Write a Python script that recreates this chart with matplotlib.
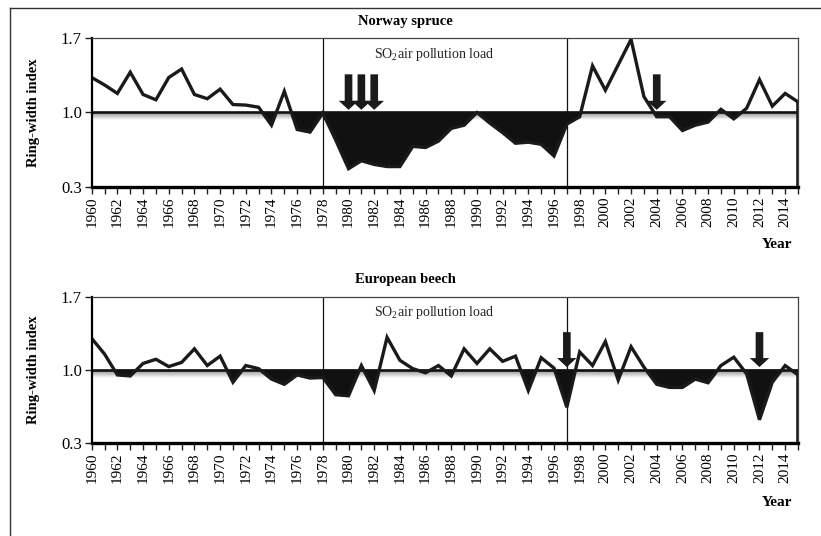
import numpy as np
import matplotlib
matplotlib.use("Agg")
import matplotlib.pyplot as plt
from matplotlib.lines import Line2D
from matplotlib.ticker import MultipleLocator

years = list(range(1960, 2016))

spruce = [1.33, 1.26, 1.18, 1.38, 1.17, 1.12, 1.33, 1.41, 1.17, 1.13,
          1.22, 1.075, 1.07, 1.05, 0.88, 1.20, 0.84, 0.815, 0.995, 0.74,
          0.47, 0.545, 0.51, 0.49, 0.49, 0.68, 0.67, 0.73, 0.85, 0.88,
          1.00, 0.90, 0.81, 0.71, 0.72, 0.70, 0.59, 0.89, 0.96, 1.44,
          1.21, 1.45, 1.69, 1.15, 0.96, 0.96, 0.83, 0.88, 0.91, 1.03,
          0.94, 1.04, 1.31, 1.06, 1.18, 1.10]

beech = [1.30, 1.15, 0.95, 0.94, 1.06, 1.10, 1.03, 1.07, 1.20, 1.04,
         1.13, 0.88, 1.04, 1.01, 0.91, 0.86, 0.95, 0.92, 0.925, 0.76,
         0.75, 1.04, 0.80, 1.31, 1.09, 1.01, 0.97, 1.04, 0.94, 1.20,
         1.06, 1.20, 1.08, 1.13, 0.80, 1.115, 1.015, 0.64, 1.17, 1.04,
         1.27, 0.90, 1.22, 1.025, 0.86, 0.83, 0.83, 0.91, 0.875, 1.04,
         1.12, 0.96, 0.52, 0.88, 1.04, 0.95]

titles = ["Norway spruce", "European beech"]
series = [spruce, beech]
arrow_years = [[1980, 1981, 1982, 2004], [1997, 2012]]
period_bounds = [1978, 1997]
yticks = [0.3, 1.0, 1.7]
ytick_labels = ["0.3", "1.0", "1.7"]

SERIF = ["Liberation Serif", "DejaVu Serif"]
plt.rcParams["font.family"] = SERIF
plt.rcParams["mathtext.fontset"] = "custom"
plt.rcParams["mathtext.rm"] = "Liberation Serif"

W, H = 821, 536
fig = plt.figure(figsize=(W / 100, H / 100), dpi=100)

# outer frame
fig.add_artist(Line2D([10 / W, 10 / W], [0, 1 - 8 / H], transform=fig.transFigure,
                      color="#333333", lw=1.0))
fig.add_artist(Line2D([10 / W, 1], [1 - 8 / H, 1 - 8 / H], transform=fig.transFigure,
                      color="#333333", lw=1.0))

panels = [  # (top_px, bottom_px, title_y_px, year_y_px)
    (38.3, 186.7, 22, 245),
    (296.7, 442.7, 280, 502),
]
x0, x1 = 91.7, 798

for i, (top, bot, ty, yy) in enumerate(panels):
    ax = fig.add_axes([x0 / W, 1 - bot / H, (x1 - x0) / W, (bot - top) / H])
    vals = np.array(series[i])
    yr = np.array(years)
    ax.set_xlim(1960, 2015)
    ax.set_ylim(0.3, 1.7)

    # shadow under baseline
    grad = np.linspace(0.55, 1.0, 50).reshape(-1, 1)
    ax.imshow(grad, cmap="gray", vmin=0, vmax=1, extent=[1960, 2015, 0.925, 1.0],
              aspect="auto", origin="upper", zorder=1, interpolation="bilinear")

    ax.fill_between(yr, vals, 1.0, where=vals < 1.0, interpolate=True,
                    color="#111111", lw=0, zorder=2)
    ax.axhline(1.0, color="#111111", lw=1.9, zorder=3)
    for b in period_bounds:
        ax.axvline(b, color="#111111", lw=0.9, zorder=3)
    ax.plot(yr, vals, color="#1a1a1a", lw=2.4, zorder=4, solid_joinstyle="miter")
    ax.plot([yr[-1], yr[-1]], [0.3, vals[-1]], color="#1a1a1a", lw=2.6, zorder=4)

    for a in arrow_years[i]:
        ax.annotate("", xy=(a, 1.025), xytext=(a, 1.36),
                    arrowprops=dict(arrowstyle="simple,head_length=0.65,head_width=1.4,tail_width=0.55",
                                    mutation_scale=10, color="#1a1a1a", lw=0, shrinkA=0, shrinkB=0),
                    zorder=5)

    ax.set_yticks(yticks)
    ax.set_yticklabels(ytick_labels, fontsize=12)
    ax.xaxis.set_minor_locator(MultipleLocator(1))
    ax.set_xticks(list(range(1960, 2015, 2)))
    ax.set_xticklabels([str(y) for y in range(1960, 2015, 2)], rotation=90, fontsize=11)
    ax.tick_params(axis="x", which="both", direction="out", length=5, width=1.0,
                   color="#222222", pad=2)
    ax.tick_params(axis="y", direction="out", length=5, width=1.0, color="#222222", pad=2)

    ax.spines["bottom"].set_linewidth(2.4)
    ax.spines["left"].set_linewidth(1.6)
    ax.spines["top"].set_linewidth(0.9)
    ax.spines["top"].set_color("#444444")
    ax.spines["right"].set_linewidth(0.9)
    ax.spines["right"].set_color("#444444")
    for s in ax.spines.values():
        s.set_zorder(6)

    fig.text(405 / W, 1 - ty / H, titles[i], ha="center", va="center",
             fontsize=10.5, fontweight="bold")
    ax.text(1986.7, 1.55, r"SO$_\mathregular{2}$air pollution load",
            ha="center", va="center", fontsize=10, color="#222222")
    fig.text(777 / W, 1 - yy / H, "Year", ha="center", va="center",
             fontsize=11, fontweight="bold")
    fig.text(33 / W, 1 - (top + bot) / 2 / H, "Ring-width index", rotation=90,
             ha="center", va="center", fontsize=10.5, fontweight="bold")

fig.savefig("out.png", dpi=100)
